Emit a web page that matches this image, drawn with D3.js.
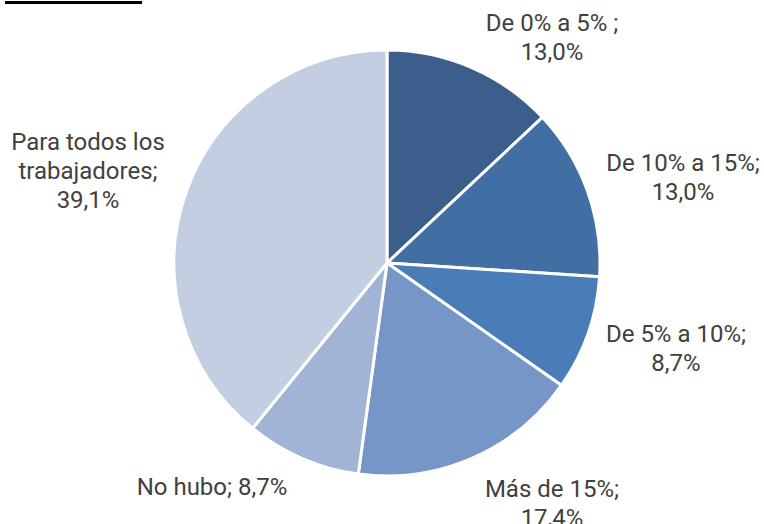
<!DOCTYPE html>
<html>
<head>
<meta charset="utf-8">
<script src="https://cdn.jsdelivr.net/npm/d3@7"></script>
<style>
  body { margin: 0; background: #fff; }
  svg { display: block; }
</style>
</head>
<body>
<div id="chart"></div>
<script>
// slices, clockwise from 12 o'clock
const categories = ["De 0% a 5% ;", "De 10% a 15%;", "De 5% a 10%;", "Más de 15%;", "No hubo;", "Para todos los trabajadores;"];
const values = [13.0, 13.0, 8.7, 17.4, 8.7, 39.1];
const valueLabels = ["13,0%", "13,0%", "8,7%", "17,4%", "8,7%", "39,1%"];
const colors = ["#3b5e8d", "#416fa4", "#4a7cb8", "#7696c7", "#a2b4d5", "#c3cee3"];

// label layout: text lines and where each block is centred
const labelLines = [
    ["De 0% a 5% ;", "13,0%"],
    ["De 10% a 15%;", "13,0%"],
    ["De 5% a 10%;", "8,7%"],
    ["Más de 15%;", "17,4%"],
    ["No hubo; 8,7%"],
    ["Para todos los", "trabajadores;", "39,1%"]
];
const labelPos = [[552, 31], [683, 171], [676, 342], [552, 497], [212, 495], [88, 150]];

const width = 764, height = 524;
const cx = 387, cy = 263, radius = 213;

const svg = d3.select("#chart")
    .append("svg")
    .attr("width", width)
    .attr("height", height);

// short rule at the top left
svg.append("line")
    .attr("x1", 5).attr("x2", 142)
    .attr("y1", 2.5).attr("y2", 2.5)
    .attr("stroke", "#000")
    .attr("stroke-width", 3);

const pie = d3.pie().sort(null).value(d => d);
const arc = d3.arc().innerRadius(0).outerRadius(radius);

const g = svg.append("g")
    .attr("transform", `translate(${cx},${cy})`);

g.selectAll("path")
    .data(pie(values))
    .join("path")
    .attr("d", arc)
    .attr("fill", (d, i) => colors[i])
    .attr("stroke", "#fff")
    .attr("stroke-width", 3)
    .attr("stroke-linejoin", "round");

const labels = svg.append("g")
    .attr("font-family", "Roboto, sans-serif")
    .attr("font-size", 24)
    .attr("fill", "#404040")
    .attr("text-anchor", "middle");

labels.selectAll("text")
    .data(labelLines)
    .join("text")
    .attr("transform", (d, i) => `translate(${labelPos[i][0]},${labelPos[i][1]})`)
    .selectAll("tspan")
    .data(d => d)
    .join("tspan")
    .attr("x", 0)
    .attr("y", (d, i) => i * 29)
    .text(d => d);
</script>
</body>
</html>
